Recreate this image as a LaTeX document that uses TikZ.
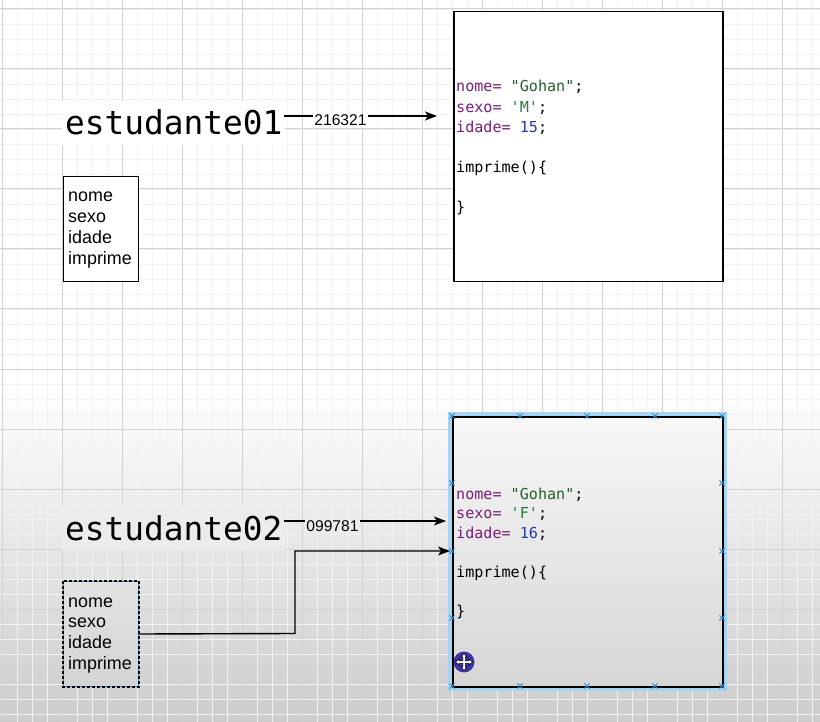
\documentclass[tikz,border=0pt]{standalone}
\usepackage{fontspec}
\setmainfont{Liberation Sans}
\newfontfamily\codefont{DejaVu Sans Mono}
\usetikzlibrary{arrows.meta}
\definecolor{gmaj}{RGB}{210,210,210}
\definecolor{gmin}{RGB}{242,242,242}
\definecolor{bgbot}{RGB}{204,204,204}
\definecolor{lbltwo}{RGB}{236,236,236}
\definecolor{kw}{RGB}{120,30,120}
\definecolor{str}{RGB}{35,95,45}
\definecolor{chr}{RGB}{45,120,70}
\definecolor{num}{RGB}{30,60,170}
\definecolor{halo}{RGB}{166,212,242}
\definecolor{mkc}{RGB}{40,140,205}
\definecolor{cursorc}{RGB}{62,52,170}
\definecolor{dashblue}{RGB}{60,140,190}
\begin{document}
\begin{tikzpicture}[x=1pt,y=-1pt,
  objbox/.style={draw=black, line width=1.5pt, anchor=north west, inner sep=0pt},
  clsbox/.style={line width=1.3pt, anchor=north west, inner sep=0pt, minimum width=75pt, minimum height=105pt},
  code/.style={font=\codefont\fontsize{15.1pt}{18pt}\selectfont, anchor=base west, inner sep=0pt},
  attr/.style={font=\fontsize{17.9pt}{21pt}\selectfont, anchor=base west, inner sep=0pt},
  big/.style={font=\codefont\fontsize{32.8pt}{36pt}\selectfont, anchor=base west, inner xsep=3pt, inner ysep=9pt, text depth=1pt},
  lab/.style={font=\fontsize{15.6pt}{18pt}\selectfont, anchor=base, inner xsep=1.5pt, inner ysep=1.5pt},
  conn/.style={line width=1.4pt, -{Stealth[length=12pt,width=9pt,inset=3pt]}},
  majorg/.style={draw=gmaj, line width=1pt},
  minorg/.style={draw=gmin, line width=0.5pt},
  mk/.style={draw=mkc, line width=1pt}
]
\useasboundingbox (0,0) rectangle (820,722);
% background
\fill[white] (0,0) rectangle (820,722);
\shade[top color=white, bottom color=bgbot] (0,385) rectangle (820,722);
% grid
\foreach \i in {0,...,54} {\draw[minorg] ({2+15*\i},0) -- ({2+15*\i},722);}
\foreach \i in {0,...,48} {\draw[minorg] (0,{9+15*\i-15}) -- (820,{9+15*\i-15});}
\foreach \i in {0,...,13} {\draw[majorg] ({2+60*\i},0) -- ({2+60*\i},722);}
\foreach \i in {0,...,12} {\draw[majorg] (0,{9+60*\i}) -- (820,{9+60*\i});}

% ---------- object 1 ----------
\node[objbox, fill=white, minimum width=269pt, minimum height=270pt] (obj1) at (453,11) {};
\node[code] (o1a) at (456,92) {\textcolor{kw}{nome=} \textcolor{str}{\textquotedbl Gohan\textquotedbl};};
\node[code] (o1b) at (456,112.5) {\textcolor{kw}{sexo=} \textcolor{chr}{\textquotesingle M\textquotesingle};};
\node[code] (o1c) at (456,133) {\textcolor{kw}{idade=} \textcolor{num}{15};};
\node[code] (o1d) at (456,173) {imprime()\{};
\node[code] (o1e) at (456,213) {\}};

\node[big, fill=white] (var1) at (62,135) {estudante01};
\coordinate (a1s) at (284,116);
\coordinate (a1e) at (437,116);
\draw[conn] (a1s) -- (a1e);
\node[lab, fill=white] (ref1) at (340.5,126) {216321};

\node[clsbox, draw=black, fill=white] (cls1) at (63,176) {};
\node[attr] (c1a) at (68,202) {nome};
\node[attr] (c1b) at (68,223) {sexo};
\node[attr] (c1c) at (68,244) {idade};
\node[attr] (c1d) at (68,264.5) {imprime};

% ---------- object 2 ----------
\draw[halo, line width=5pt] (450,414) rectangle (724.5,688);
\node[objbox, top color=white!97!black, bottom color=black!16, minimum width=270pt, minimum height=270pt] (obj2) at (452,416) {};
\node[code] (o2a) at (456,499) {\textcolor{kw}{nome=} \textcolor{str}{\textquotedbl Gohan\textquotedbl};};
\node[code] (o2b) at (456,518.5) {\textcolor{kw}{sexo=} \textcolor{chr}{\textquotesingle F\textquotesingle};};
\node[code] (o2c) at (456,538) {\textcolor{kw}{idade=} \textcolor{num}{16};};
\node[code] (o2d) at (456,577) {imprime()\{};
\node[code] (o2e) at (456,616) {\}};

\node[big, fill=lbltwo] (var2) at (62,540) {estudante02};
\coordinate (a2s) at (284,521);
\coordinate (a2e) at (446,521);
\draw[conn] (a2s) -- (a2e);
\node[lab, fill=lbltwo] (ref2) at (332.5,531) {099781};

\node[clsbox, top color=black!11, bottom color=black!17, draw=dashblue, line width=1pt] (cls2) at (63,581) {};
\draw[black, line width=1.2pt, dash pattern=on 3pt off 2pt] (cls2.north west) rectangle (cls2.south east);
\node[attr] (c2a) at (68,607) {nome};
\node[attr] (c2b) at (68,627.5) {sexo};
\node[attr] (c2c) at (68,648.5) {idade};
\node[attr] (c2d) at (68,669.5) {imprime};

\coordinate (a3e) at (450,551);
\draw[conn] (cls2.east) -- (295,633.5) |- (a3e);

% selection markers
\foreach \x/\y in {452/416,520/416,587/416,655/416,722/416,
                   452/686,520/686,587/686,655/686,722/686,
                   452/483,452/551,452/618,722/483,722/551,722/618}
  {\draw[mk] (\x,\y) ++(-2.6,-2.6) -- ++(5.2,5.2) (\x,\y) ++(-2.6,2.6) -- ++(5.2,-5.2);}

% move cursor
\fill[cursorc] (464,662) circle (10.5);
\filldraw[fill=white, draw=black, line width=0.6pt, shift={(464,662)}]
  (0,-8.5) -- (3.2,-5) -- (1.3,-5) -- (1.3,-1.3) -- (5,-1.3) -- (5,-3.2) -- (8.5,0)
  -- (5,3.2) -- (5,1.3) -- (1.3,1.3) -- (1.3,5) -- (3.2,5) -- (0,8.5) -- (-3.2,5)
  -- (-1.3,5) -- (-1.3,1.3) -- (-5,1.3) -- (-5,3.2) -- (-8.5,0) -- (-5,-3.2)
  -- (-5,-1.3) -- (-1.3,-1.3) -- (-1.3,-5) -- (-3.2,-5) -- cycle;
\end{tikzpicture}
\end{document}
